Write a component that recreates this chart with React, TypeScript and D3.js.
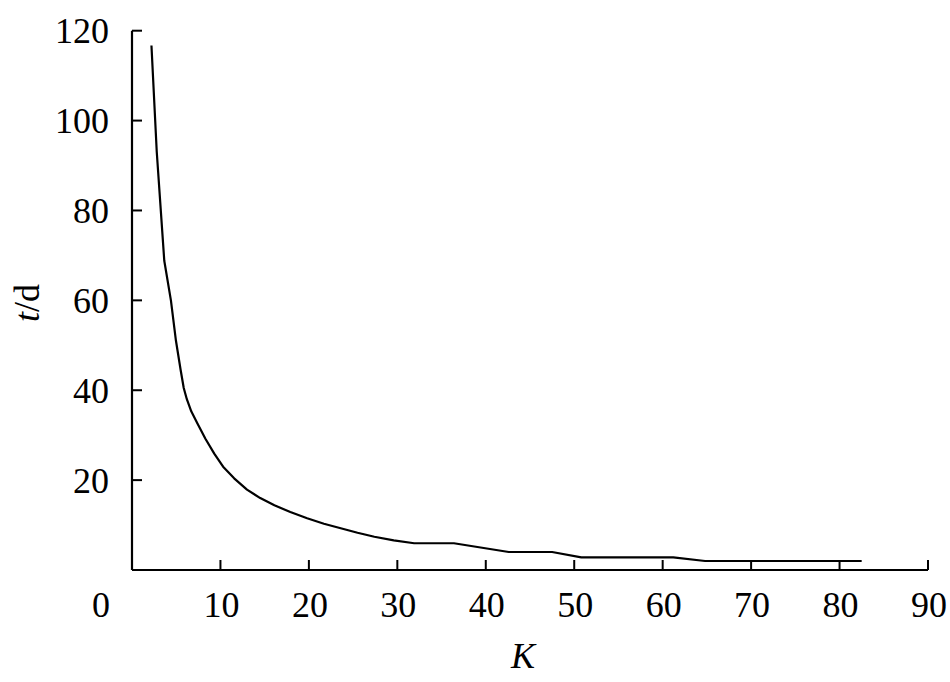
import React from "react";
import * as d3 from "d3";

const kValues = [2.2, 2.8, 3.65, 4.4, 4.97, 5.5, 5.85, 6.2, 6.7, 7.4, 8.3, 9.3, 10.3, 11.55, 13.0, 14.5, 16.1, 17.9, 19.8, 21.7, 23.6, 25.5, 27.4, 29.6, 31.9, 36.4, 42.6, 47.5, 50.8, 61.2, 64.8, 82.5];
const tValues = [116.7, 93.0, 68.8, 60.0, 51.0, 44.5, 40.5, 38.0, 35.3, 32.6, 29.2, 25.9, 23.0, 20.4, 17.9, 16.0, 14.4, 12.9, 11.5, 10.3, 9.3, 8.3, 7.4, 6.6, 5.95, 5.95, 4.0, 4.0, 2.8, 2.8, 2.0, 2.0];
const xTicks = [10, 20, 30, 40, 50, 60, 70, 80, 90];
const xLabels = [0, 10, 20, 30, 40, 50, 60, 70, 80, 90];
const yTicks = [20, 40, 60, 80, 100, 120];

const W = 950;
const H = 682;
const FONT = "'Liberation Serif', 'Times New Roman', serif";

export default function App() {
  const x = d3.scaleLinear().domain([0, 90]).range([132, 928]);
  const y = d3.scaleLinear().domain([0, 120]).range([570, 30.7]);
  const pts: [number, number][] = kValues.map((k, i) => [k, tValues[i]]);
  const line = d3
    .line<[number, number]>()
    .x((d) => x(d[0]))
    .y((d) => y(d[1]))
    .curve(d3.curveLinear);

  return (
    <svg
      width={W}
      height={H}
      style={{ position: "absolute", left: 0, top: 0, background: "#fff" }}
      fontFamily={FONT}
    >
      <rect x={0} y={0} width={W} height={H} fill="#fff" />
      {/* axes */}
      <line x1={x(0)} x2={x(90)} y1={y(0)} y2={y(0)} stroke="#000" strokeWidth={2.2} />
      <line x1={x(0)} x2={x(0)} y1={y(0)} y2={y(120)} stroke="#000" strokeWidth={2.2} />
      {xTicks.map((t) => (
        <line key={"xt" + t} x1={x(t)} x2={x(t)} y1={y(0)} y2={y(0) - 10} stroke="#000" strokeWidth={2} />
      ))}
      {yTicks.map((t) => (
        <line key={"yt" + t} x1={x(0)} x2={x(0) + 10} y1={y(t)} y2={y(t)} stroke="#000" strokeWidth={2} />
      ))}
      {xLabels.map((t) => (
        <text
          key={"xl" + t}
          x={t === 0 ? x(0) - 31 : x(t) + 1}
          y={617}
          fontSize={36}
          textAnchor="middle"
          fill="#000"
        >
          {t}
        </text>
      ))}
      {yTicks.map((t) => (
        <text key={"yl" + t} x={109} y={y(t) + 12.5} fontSize={36} textAnchor="end" fill="#000">
          {t}
        </text>
      ))}
      {/* axis titles */}
      <text x={523} y={668} fontSize={36} textAnchor="middle" fontStyle="italic" fill="#000">
        K
      </text>
      <text
        transform={`translate(39,303) rotate(-90)`}
        fontSize={36}
        textAnchor="middle"
        fill="#000"
      >
        <tspan fontStyle="italic">t</tspan>
        <tspan>/d</tspan>
      </text>
      {/* curve */}
      <path d={line(pts) || ""} fill="none" stroke="#000" strokeWidth={2.2} strokeLinejoin="round" />
    </svg>
  );
}
